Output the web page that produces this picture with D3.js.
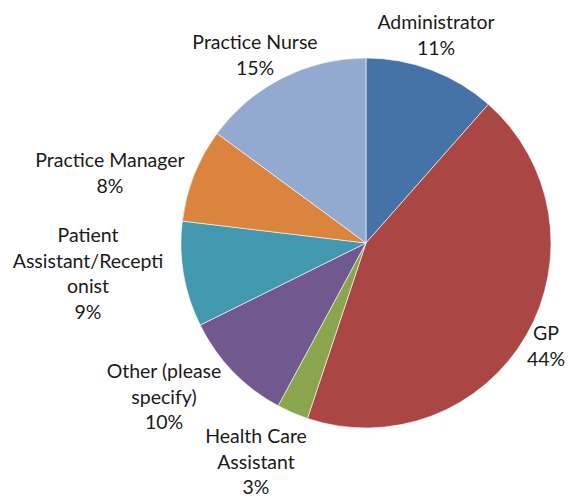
<!DOCTYPE html>
<html>
<head>
<meta charset="utf-8">
<script src="https://cdn.jsdelivr.net/npm/d3@7"></script>
<style>
  body { margin: 0; background: #fff; }
  text { font-family: Lato, "Open Sans", sans-serif; fill: #1a1a1a; }
</style>
</head>
<body>
<div id="chart"></div>
<script>
const categories = ["Administrator", "GP", "Health Care Assistant", "Other (please specify)",
  "Patient Assistant/Receptionist", "Practice Manager", "Practice Nurse"]
const values = [11.5, 43.6, 2.75, 9.8, 9.2, 8.2, 14.9]
const percentLabels = ["11%", "44%", "3%", "10%", "9%", "8%", "15%"]
const colors = ["#4572a7", "#aa4643", "#89a54e", "#71588f", "#4198af", "#db843d", "#93a9cf"]

// label text lines as Excel wrapped them
const labelLines = [
  ["Administrator"],
  ["GP"],
  ["Health Care", "Assistant"],
  ["Other (please", "specify)"],
  ["Patient", "Assistant/Recepti", "onist"],
  ["Practice Manager"],
  ["Practice Nurse"]
]
// label block anchor: centre x, first baseline y
const labelPos = [
  [436, 29], [546, 340], [256, 443], [164, 378], [88, 242], [110, 167], [255, 49]
]

const width = 568, height = 497
const cx = 366, cy = 243, radius = 185
const lineHeight = 25.5

const svg = d3.select("#chart").append("svg")
  .attr("width", width)
  .attr("height", height)

const pie = d3.pie().sort(null).value(d => d)
const arc = d3.arc().innerRadius(0).outerRadius(radius)

const g = svg.append("g").attr("transform", `translate(${cx},${cy})`)

g.selectAll("path")
  .data(pie(values))
  .enter()
  .append("path")
  .attr("d", arc)
  .attr("fill", (d, i) => colors[i])
  .attr("stroke", "#fff")
  .attr("stroke-width", 0.6)

const labels = svg.selectAll("text.lbl")
  .data(categories)
  .enter()
  .append("text")
  .attr("class", "lbl")
  .attr("text-anchor", "middle")
  .attr("font-size", 19.5)

labels.each(function(d, i) {
  const lines = labelLines[i].concat([percentLabels[i]])
  d3.select(this).selectAll("tspan")
    .data(lines)
    .enter()
    .append("tspan")
    .attr("x", labelPos[i][0])
    .attr("y", (l, j) => labelPos[i][1] + j * lineHeight)
    .text(l => l)
})
</script>
</body>
</html>
